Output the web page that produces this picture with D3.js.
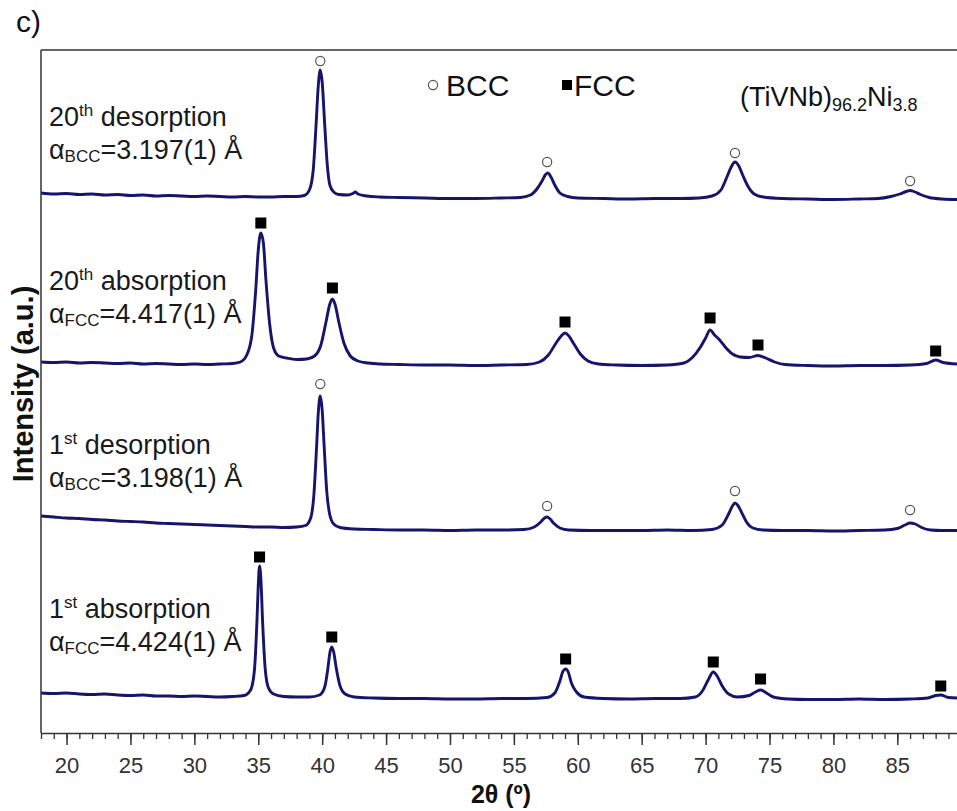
<!DOCTYPE html>
<html>
<head>
<meta charset="utf-8">
<script src="https://cdn.jsdelivr.net/npm/d3@7"></script>
<style>
  html, body { margin: 0; padding: 0; background: #fff; }
  svg { display: block; }
  text { font-family: "Liberation Sans", Arial, sans-serif; }
</style>
</head>
<body>
<svg id="chart" width="957" height="811"></svg>
<script>
// ---------------- DATA ----------------
// x: 2θ (degrees); y: intensity (a.u.) relative to each pattern's vertical offset
const tickLabels = [20, 25, 30, 35, 40, 45, 50, 55, 60, 65, 70, 75, 80, 85];
const traceNames = ["20th desorption", "20th absorption", "1st desorption", "1st absorption"];
const traceOffsets = [525, 358, 190, 25];

const desorption20 = [
  [18,15],[19,14],[20,14.5],[21,13.5],[22,14],[23,13],[24,13.5],[25,12.5],[26,13],[27,12],[28,12.5],[29,12],
  [30,11.5],[31,12],[32,11.5],[33,11],[34,11.5],[35,11],[36,11],[37,11.5],[38,11.5],[38.6,12.5],[39.0,18],
  [39.3,38],[39.5,78],[39.7,123],[39.85,138],[40.0,126],[40.2,83],[40.4,43],[40.6,23],[40.9,16],[41.3,13.5],
  [42.0,13],[42.4,14.5],[42.6,16],[42.8,14],[43.5,12],[44.5,11],[46,10.5],[48,10],[50,9.5],[52,9.5],[54,10],
  [55.5,10.5],[56.3,13],[56.8,19],[57.2,27],[57.45,33],[57.65,35],[57.9,31],[58.2,23],[58.6,15],[59.2,11.5],
  [60,10],[62,9.5],[64,9],[66,9.5],[68,9.5],[69.5,10],[70.5,12],[71.2,18],[71.7,32],[72.0,41],[72.3,46],
  [72.6,42],[72.9,33],[73.3,22],[73.8,14],[74.5,11],[76,9.5],[78,9],[80,8.5],[82,9],[83.5,9.5],[84.5,11.5],
  [85.2,14],[85.7,16.5],[86.0,17.5],[86.3,16.5],[86.8,13.5],[87.5,10.5],[88.5,9],[89.67,8.5]
];
const absorption20 = [
  [18,13],[19,12.5],[20,13],[21,12],[22,12.5],[23,12],[24,11.5],[25,12],[26,11],[27,11.5],[28,11],[29,10.5],
  [30,11],[31,10.5],[32,11],[33,11.5],[33.6,13],[34.1,20],[34.5,40],[34.8,85],[35.0,125],[35.2,142],[35.4,132],
  [35.6,95],[35.9,50],[36.2,27],[36.6,19],[37.2,17],[38,15.5],[38.8,16],[39.4,19],[39.9,30],[40.3,53],[40.6,71],
  [40.8,76],[41.0,71],[41.3,53],[41.7,32],[42.2,19],[42.8,14],[43.6,12],[44.5,11],[46,10.5],[48,10],[50,10],
  [52,9.5],[54,10],[56,10.5],[57.0,13],[57.7,20],[58.3,32],[58.7,39],[59.0,42],[59.3,39],[59.7,31],[60.2,21],
  [60.8,14],[61.6,11],[63,10],[65,9.5],[67,10],[68.3,12],[69.0,18],[69.6,28],[70.0,37],[70.35,45],[70.7,40],
  [71.1,35],[71.6,27],[72.1,21],[72.7,18],[73.4,17.5],[74.1,19.5],[74.7,17],[75.4,13],[76.2,10.5],[78,9.5],
  [80,9],[82,9.5],[84,9.5],[86,10],[87.3,11.5],[88.0,15],[88.6,12.5],[89.67,11]
];
const desorption1 = [
  [18,27],[19,26],[20,25],[21,24.5],[22,23.5],[23,23],[24,22],[25,21.5],[26,21],[27,20],[28,19.5],[29,19],
  [30,18.5],[31,18],[32,17.5],[33,17],[34,16.5],[35,16],[36,16],[37,15.5],[38,16],[38.7,17.5],[39.1,25],
  [39.35,48],[39.55,93],[39.7,131],[39.85,147],[40.0,133],[40.15,98],[40.35,53],[40.6,28],[40.9,19],[41.4,15.5],
  [42.5,14],[44,13.5],[46,13],[48,13],[50,12.5],[52,13],[54,13],[55.8,13.5],[56.6,16],[57.1,21],[57.4,25],
  [57.6,26],[57.8,24.5],[58.1,20],[58.6,15],[59.3,13],[61,12.5],[63,12.5],[65,12.5],[67,13],[69,12.5],
  [70.5,13.5],[71.3,18],[71.8,29],[72.1,37],[72.3,40],[72.5,38],[72.8,31],[73.2,21],[73.7,15],[74.5,13],
  [76,12.5],[78,12.5],[80,12],[82,12.5],[84,13],[85.0,14.5],[85.6,18],[86.0,20],[86.4,19],[86.9,15.5],
  [87.6,13],[88.5,12.5],[89.67,12.5]
];
const absorption1 = [
  [18,15],[19,14.5],[20,15],[21,14],[22,13.5],[23,14],[24,13],[25,12.5],[26,13],[27,12],[28,12],[29,11.5],
  [30,12],[31,11.5],[32,11],[33,11.5],[33.9,12.5],[34.4,18],[34.7,38],[34.9,88],[35.0,123],[35.1,142],[35.2,130],
  [35.35,83],[35.55,38],[35.8,20],[36.2,14],[37,11.5],[38,11],[39,11],[39.8,13],[40.2,21],[40.45,40],[40.6,55],
  [40.75,61],[40.9,56],[41.1,40],[41.4,22],[41.8,14],[42.5,11],[44,10],[46,9.5],[48,9.5],[50,9],[52,9],
  [54,9.5],[56,9.5],[57.6,10.5],[58.2,15],[58.6,27],[58.85,37],[59.05,39],[59.25,36],[59.5,25],[59.9,16],
  [60.5,11],[62,9.5],[64,9],[66,9.5],[68,9.5],[69.2,11],[69.8,18],[70.2,28],[70.6,36],[70.9,32],[71.3,22],
  [71.8,14],[72.5,11],[73.4,12.5],[73.9,16],[74.3,18],[74.7,15.5],[75.3,11],[76.5,9],[78,8.5],[80,8.5],
  [82,9],[84,8.5],[86,9],[87.4,10],[88.0,12.5],[88.4,13],[89,10.5],[89.67,10]
];

// phase markers: [2θ, intensity above the pattern offset]
const bccMarks20 = [[39.85,147],[57.6,46],[72.3,55],[86.0,27]];
const fccMarks20 = [[35.2,152],[40.8,87],[59.0,53],[70.35,57],[74.1,30],[88.0,24]];
const bccMarks1  = [[39.85,159],[57.6,37],[72.3,52],[86.0,33]];
const fccMarks1  = [[35.1,151],[40.75,71],[59.05,49],[70.6,46],[74.3,29],[88.4,22]];

const latticeLabels = [
  {phase: "BCC", value: "=3.197(1) Å"},
  {phase: "FCC", value: "=4.417(1) Å"},
  {phase: "BCC", value: "=3.198(1) Å"},
  {phase: "FCC", value: "=4.424(1) Å"}
];

// ---------------- DRAW ----------------
const svg = d3.select("#chart");
const W = 957, H = 811;
const m = {left: 41, top: 50, right: 0, bottom: 78};
const x = d3.scaleLinear().domain([18, 89.67]).range([m.left, W - m.right]);
const y = d3.scaleLinear().domain([0, 683]).range([H - m.bottom, m.top]);

svg.append("rect").attr("width", W).attr("height", H).attr("fill", "#fff");

const traces = [desorption20, absorption20, desorption1, absorption1];
const lineColor = "#15156b";

traces.forEach((tr, i) => {
  const off = traceOffsets[i];
  const line = d3.line()
    .x(d => x(d[0]))
    .y(d => y(off + d[1]))
    .curve(d3.curveMonotoneX);
  svg.append("path")
    .datum(tr)
    .attr("fill", "none")
    .attr("stroke", lineColor)
    .attr("stroke-width", 2.9)
    .attr("stroke-linejoin", "round")
    .attr("d", line);
});

// markers
function circles(marks, off) {
  svg.append("g").selectAll("circle").data(marks).join("circle")
    .attr("cx", d => x(d[0])).attr("cy", d => y(off + d[1]))
    .attr("r", 4.6).attr("fill", "#fff").attr("stroke", "#555").attr("stroke-width", 1.2);
}
function squares(marks, off) {
  const s = 11;
  svg.append("g").selectAll("rect").data(marks).join("rect")
    .attr("x", d => x(d[0]) - s / 2).attr("y", d => y(off + d[1]) - s / 2)
    .attr("width", s).attr("height", s).attr("fill", "#000");
}
circles(bccMarks20, traceOffsets[0]);
squares(fccMarks20, traceOffsets[1]);
circles(bccMarks1, traceOffsets[2]);
squares(fccMarks1, traceOffsets[3]);

// frame
const frame = svg.append("g").attr("stroke", "#333").attr("stroke-width", 1.5).attr("fill", "none");
frame.append("line").attr("x1", m.left).attr("x2", m.left).attr("y1", m.top).attr("y2", H - m.bottom);
frame.append("line").attr("x1", m.left).attr("x2", W).attr("y1", m.top).attr("y2", m.top);

// x axis: minor ticks
const minor = svg.append("g").attr("transform", `translate(0,${H - m.bottom})`)
  .call(d3.axisBottom(x).tickValues(d3.range(18, 90, 1)).tickSize(6).tickFormat(""));
minor.select(".domain").remove();
minor.selectAll("line").attr("stroke", "#333").attr("stroke-width", 1.3);

const major = svg.append("g").attr("transform", `translate(0,${H - m.bottom})`)
  .call(d3.axisBottom(x).tickValues(tickLabels).tickSize(12).tickPadding(12).tickSizeOuter(0));
major.select(".domain").attr("stroke", "#333").attr("stroke-width", 1.5);
major.selectAll(".tick line").attr("stroke", "#333").attr("stroke-width", 1.5);
major.selectAll(".tick text").attr("font-size", 22).attr("fill", "#333")
  .attr("font-family", "'Liberation Sans', Arial, sans-serif");

// axis titles
svg.append("text").attr("x", 501).attr("y", 803).attr("text-anchor", "middle")
  .attr("font-size", 25).attr("font-weight", "bold").attr("fill", "#111").text("2θ (º)");
svg.append("text").attr("transform", "translate(33,384) rotate(-90)").attr("text-anchor", "middle")
  .attr("font-size", 29).attr("font-weight", "bold").attr("fill", "#111").text("Intensity (a.u.)");

// panel letter
svg.append("text").attr("x", 16).attr("y", 32).attr("font-size", 30)
  .attr("font-family", "'Open Sans', sans-serif").attr("fill", "#111").text("c)");

// trace labels
const labelBase = [126, 290, 454, 618];
traceNames.forEach((name, i) => {
  const parts = name.match(/^(\d+)(th|st)\s(.*)$/);
  const t = svg.append("text").attr("x", 49).attr("y", labelBase[i]).attr("font-size", 27).attr("fill", "#1a1a1a");
  t.append("tspan").text(parts[1]);
  t.append("tspan").attr("font-size", 17).attr("dy", -10).text(parts[2]);
  t.append("tspan").attr("dy", 10).text(" " + parts[3]);

  const t2 = svg.append("text").attr("x", 49).attr("y", labelBase[i] + 33).attr("font-size", 27).attr("fill", "#1a1a1a");
  t2.append("tspan").text("α");
  t2.append("tspan").attr("font-size", 17).attr("dy", 3).text(latticeLabels[i].phase);
  t2.append("tspan").attr("dy", -3).text(latticeLabels[i].value);
});

// legend
svg.append("circle").attr("cx", 433).attr("cy", 85).attr("r", 4.6)
  .attr("fill", "#fff").attr("stroke", "#555").attr("stroke-width", 1.2);
svg.append("text").attr("x", 446).attr("y", 96).attr("font-size", 30).attr("fill", "#111").text("BCC");
svg.append("rect").attr("x", 562).attr("y", 80).attr("width", 10).attr("height", 10).attr("fill", "#000");
svg.append("text").attr("x", 574).attr("y", 96).attr("font-size", 30).attr("fill", "#111").text("FCC");

// composition
const comp = svg.append("text").attr("x", 740).attr("y", 106).attr("font-size", 27).attr("fill", "#111");
comp.append("tspan").text("(TiVNb)");
comp.append("tspan").attr("font-size", 18).attr("dy", 5).text("96.2");
comp.append("tspan").attr("dy", -5).text("Ni");
comp.append("tspan").attr("font-size", 18).attr("dy", 5).text("3.8");
</script>
</body>
</html>
